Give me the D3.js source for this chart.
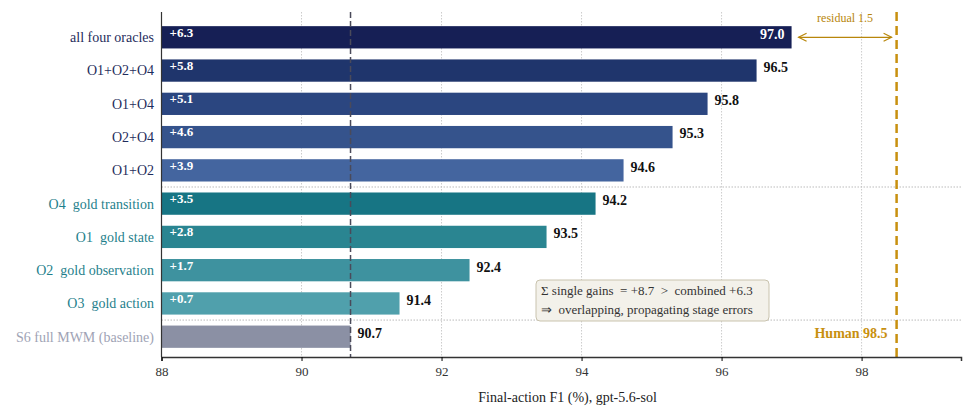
<!DOCTYPE html>
<html><head><meta charset="utf-8">
<script src="https://cdn.jsdelivr.net/npm/d3@7"></script>
<style>body{margin:0;background:#fff}svg{font-family:"Liberation Serif",serif}</style>
</head><body><svg id="c" width="977" height="412"></svg>
<script>
const labels = ["all four oracles","O1+O2+O4","O1+O4","O2+O4","O1+O2","O4  gold transition","O1  gold state","O2  gold observation","O3  gold action","S6 full MWM (baseline)"]
const values = [97.0,96.5,95.8,95.3,94.6,94.2,93.5,92.4,91.4,90.7]
const gains = ["+6.3","+5.8","+5.1","+4.6","+3.9","+3.5","+2.8","+1.7","+0.7",""]
const barColors = ["#161f55","#1f356c","#2b4680","#35538c","#44659f","#177584","#2a8591","#3e929f","#50a0ac","#8b90a4"]
const labelColors = ["#1f2d5c","#1f2d5c","#1f2d5c","#1f2d5c","#1f2d5c","#1f7f8c","#1f7f8c","#1f7f8c","#1f7f8c","#a0a3b5"]
const ticks = [88,90,92,94,96,98]
const baseline = 90.7, human = 98.5

const svg = d3.select("#c")
const x = d3.scaleLinear().domain([88,99.42]).range([161.5,961])
const y = d3.scaleBand().domain(labels).range([20.5,353.5]).paddingInner(0.33).paddingOuter(0.17)
const yTop = 12, yBot = 357

// grid
svg.selectAll(".grid").data(ticks.slice(1)).join("line")
  .attr("x1",d=>x(d)).attr("x2",d=>x(d)).attr("y1",yTop).attr("y2",yBot)
  .attr("stroke","#ccc").attr("stroke-dasharray","1.5,1.5")
// group separators
const sepY = [(y(labels[4])+y.bandwidth()+y(labels[5]))/2,(y(labels[8])+y.bandwidth()+y(labels[9]))/2]
svg.selectAll(".sep").data(sepY).join("line")
  .attr("x1",161.5).attr("x2",961).attr("y1",d=>d).attr("y2",d=>d)
  .attr("stroke","#bbb").attr("stroke-dasharray","1.5,1.5")

svg.selectAll(".bar").data(labels).join("rect")
  .attr("x",x(88)).attr("y",d=>y(d)).attr("height",y.bandwidth())
  .attr("width",(d,i)=>x(values[i])-x(88)).attr("fill",(d,i)=>barColors[i])

// gain labels
svg.selectAll(".gain").data(labels).join("text")
  .attr("x",x(88)+8).attr("y",d=>y(d)+y.bandwidth()/2).attr("dy","-0.05em")
  .attr("fill","#fff").attr("font-weight","bold").attr("font-size",13)
  .text((d,i)=>gains[i])
// value labels
svg.selectAll(".val").data(labels).join("text")
  .attr("x",(d,i)=>i===0?x(values[i])-7:x(values[i])+7)
  .attr("text-anchor",(d,i)=>i===0?"end":"start")
  .attr("y",d=>y(d)+y.bandwidth()/2).attr("dy","0.1em")
  .attr("fill",(d,i)=>i===0?"#fff":"#111").attr("font-weight","bold").attr("font-size",14)
  .text((d,i)=>values[i].toFixed(1))
// category labels
svg.selectAll(".cat").data(labels).join("text")
  .attr("x",154).attr("y",d=>y(d)+y.bandwidth()/2).attr("dy","0.35em")
  .attr("text-anchor","end").attr("font-size",14).attr("fill",(d,i)=>labelColors[i])
  .attr("xml:space","preserve").text(d=>d)

// baseline dashed
svg.append("line").attr("x1",x(baseline)).attr("x2",x(baseline)).attr("y1",yTop).attr("y2",yBot)
  .attr("stroke","#4a4a5a").attr("stroke-width",1.5).attr("stroke-dasharray","6,3")
// human
svg.append("line").attr("x1",x(human)).attr("x2",x(human)).attr("y1",yTop).attr("y2",yBot)
  .attr("stroke","#c8900f").attr("stroke-width",2.5).attr("stroke-dasharray","9,5")
svg.append("text").attr("x",x(human)-9).attr("y",338).attr("text-anchor","end")
  .attr("fill","#c8900f").attr("font-weight","bold").attr("font-size",14).text("Human "+human)
// residual arrow
const ay = y(labels[0])+y.bandwidth()/2
const ax1 = x(values[0])+7, ax2 = x(human)-5
svg.append("line").attr("x1",ax1).attr("x2",ax2).attr("y1",ay).attr("y2",ay).attr("stroke","#b8860b").attr("stroke-width",1.2)
svg.append("path").attr("d",`M${ax1+8},${ay-4}L${ax1},${ay}L${ax1+8},${ay+4}`).attr("fill","none").attr("stroke","#b8860b").attr("stroke-width",1.2)
svg.append("path").attr("d",`M${ax2-8},${ay-4}L${ax2},${ay}L${ax2-8},${ay+4}`).attr("fill","none").attr("stroke","#b8860b").attr("stroke-width",1.2)
svg.append("text").attr("x",(ax1+ax2)/2).attr("y",22).attr("text-anchor","middle")
  .attr("fill","#b8860b").attr("font-size",12).text("residual "+(human-values[0]).toFixed(1))

// annotation box
svg.append("rect").attr("x",536).attr("y",280).attr("width",233).attr("height",41).attr("rx",4)
  .attr("fill","#f3f1ea").attr("stroke","#c9c3ae")
svg.append("text").attr("x",541).attr("y",294.5).attr("font-size",13).attr("fill","#333")
  .attr("xml:space","preserve").text("Σ single gains  = +8.7  >  combined +6.3")
svg.append("text").attr("x",541).attr("y",313.5).attr("font-size",13).attr("fill","#333")
  .attr("xml:space","preserve").text("⇒  overlapping, propagating stage errors")

// axes
svg.append("line").attr("x1",161.5).attr("x2",161.5).attr("y1",yTop).attr("y2",yBot).attr("stroke","#333").attr("stroke-width",1.2)
svg.append("g").attr("transform",`translate(0,${yBot})`)
  .call(d3.axisBottom(x).tickValues(ticks).tickSize(4).tickPadding(6).tickFormat(d3.format("d")))
  .call(g=>g.select(".domain").attr("stroke","#333").attr("stroke-width",1.5))
  .call(g=>g.selectAll("text").attr("font-size",13).attr("fill","#333").attr("font-family","Liberation Serif"))
svg.append("text").attr("x",x(93.8)).attr("y",402).attr("text-anchor","middle")
  .attr("font-size",14).attr("fill","#222").text("Final-action F1 (%), gpt-5.6-sol")
</script></body></html>
